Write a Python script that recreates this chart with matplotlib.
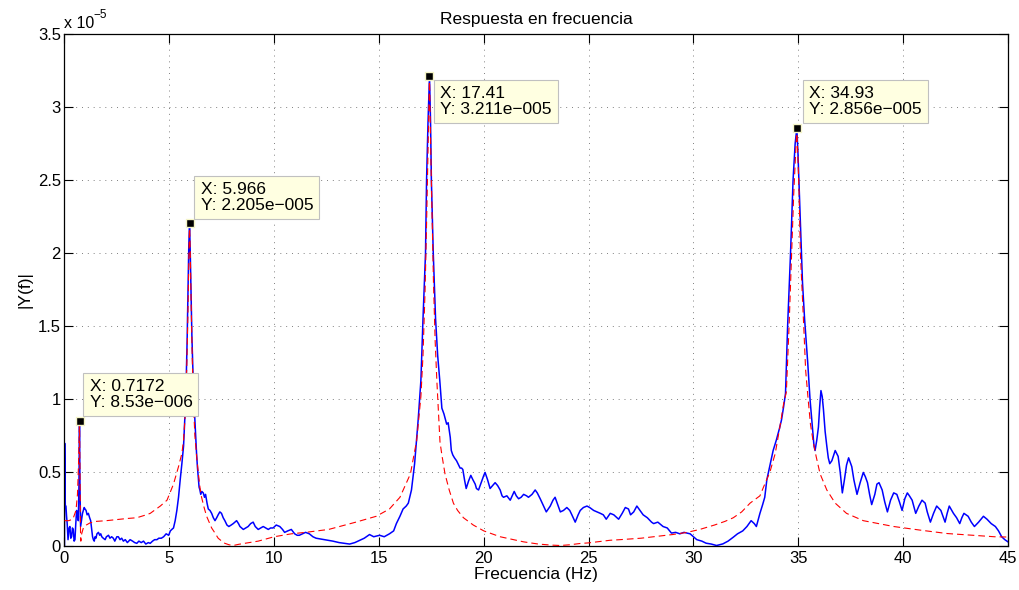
# =========================
# 1. Import Libraries
# =========================
import matplotlib
matplotlib.use('Agg')
import matplotlib.pyplot as plt

plt.rcParams['font.family'] = ['Liberation Sans', 'DejaVu Sans']

# =========================
# 2. Data (amplitudes in units of 1e-5)
# =========================
# measured spectrum |Y(f)|
freq_blue = [
    0.0, 0.01, 0.04, 0.07, 0.10, 0.13, 0.17, 0.22, 0.26, 0.30, 0.34, 0.38, 0.42, 0.46, 0.50,
    0.54, 0.58, 0.62, 0.66, 0.69, 0.7172, 0.74, 0.77, 0.82, 0.86, 0.90, 0.94, 0.98, 1.03,
    1.08, 1.14, 1.20, 1.25, 1.30, 1.34, 1.38, 1.42, 1.46, 1.50, 1.55, 1.62, 1.68, 1.73,
    1.78, 1.85, 1.94, 2.0, 2.1, 2.17, 2.25, 2.33, 2.4, 2.5, 2.57, 2.65, 2.73, 2.81, 2.9,
    3.0, 3.13, 3.25, 3.35, 3.45, 3.55, 3.66, 3.77, 3.88, 4.0, 4.09, 4.2, 4.3, 4.41, 4.5,
    4.62, 4.73, 4.85, 4.97, 5.05, 5.12, 5.2, 5.28, 5.36, 5.44, 5.52, 5.6, 5.68, 5.75, 5.8,
    5.85, 5.9, 5.93, 5.966, 6.0, 6.04, 6.08, 6.13, 6.18, 6.22, 6.26, 6.3, 6.34, 6.38, 6.42,
    6.46, 6.5, 6.55, 6.62, 6.68, 6.73, 6.8, 6.86, 6.94, 7.02, 7.1, 7.18, 7.26, 7.33, 7.41,
    7.49, 7.57, 7.65, 7.75, 7.84, 7.95, 8.05, 8.13, 8.21, 8.3, 8.37, 8.45, 8.53, 8.65, 8.76,
    8.88, 9.0, 9.1, 9.24, 9.36, 9.48, 9.6, 9.72, 9.83, 9.95, 10.1, 10.27, 10.4, 10.5, 10.65,
    10.82, 10.98, 11.1, 11.2, 11.35, 11.5, 11.68, 11.85, 12.0, 12.2, 12.4, 12.6, 12.8, 13.1,
    13.35, 13.6, 13.85, 14.07, 14.3, 14.55, 14.75, 15.03, 15.25, 15.5, 15.7, 15.83, 16.0,
    16.15, 16.3, 16.4, 16.55, 16.7, 16.87, 17.0, 17.1, 17.22, 17.27, 17.34, 17.41, 17.46,
    17.5, 17.59, 17.7, 17.8, 17.9, 18.0, 18.1, 18.23, 18.3, 18.4, 18.45, 18.52, 18.6, 18.7,
    18.8, 18.87, 18.94, 19.0, 19.08, 19.16, 19.27, 19.38, 19.48, 19.59, 19.65, 19.75, 19.9,
    20.0, 20.06, 20.18, 20.3, 20.42, 20.54, 20.66, 20.78, 20.87, 20.94, 21.1, 21.26, 21.45,
    21.55, 21.66, 21.78, 21.9, 22.04, 22.13, 22.3, 22.45, 22.55, 22.69, 22.85, 22.98, 23.17,
    23.3, 23.4, 23.5, 23.65, 23.8, 23.96, 24.1, 24.2, 24.36, 24.5, 24.6, 24.75, 24.92, 25.05,
    25.24, 25.4, 25.56, 25.7, 25.84, 26.03, 26.2, 26.43, 26.6, 26.75, 26.9, 27.0, 27.15,
    27.3, 27.45, 27.6, 27.8, 28.0, 28.1, 28.3, 28.55, 28.75, 28.95, 29.15, 29.35, 29.55,
    29.84, 30.0, 30.16, 30.4, 30.6, 30.85, 31.1, 31.4, 31.65, 31.9, 32.1, 32.35, 32.55,
    32.75, 32.9, 33.0, 33.17, 33.3, 33.4, 33.5, 33.56, 33.7, 33.8, 33.95, 34.1, 34.2, 34.3,
    34.39, 34.49, 34.56, 34.63, 34.7, 34.75, 34.85, 34.93, 34.98, 35.03, 35.1, 35.2, 35.3,
    35.35, 35.45, 35.56, 35.65, 35.75, 35.8, 35.88, 35.96, 36.02, 36.08, 36.14, 36.2, 36.28,
    36.36, 36.43, 36.5, 36.6, 36.76, 36.83, 36.9, 37.0, 37.1, 37.2, 37.3, 37.4, 37.55, 37.65,
    37.8, 37.95, 38.1, 38.2, 38.3, 38.4, 38.5, 38.65, 38.75, 38.85, 39.0, 39.12, 39.25, 39.4,
    39.55, 39.7, 39.82, 39.95, 40.08, 40.2, 40.3, 40.43, 40.6, 40.75, 40.9, 41.05, 41.15,
    41.3, 41.45, 41.6, 41.8, 42.0, 42.1, 42.2, 42.4, 42.55, 42.7, 42.8, 42.9, 43.1, 43.25,
    43.4, 43.6, 43.83, 44.0, 44.2, 44.4, 44.55, 44.7, 44.85, 45.0,
]
amp_blue = [
    0.0, 0.70, 0.27, 0.27, 0.20, 0.15, 0.04, 0.12, 0.13, 0.05, 0.06, 0.12, 0.11, 0.03, 0.04,
    0.15, 0.24, 0.20, 0.17, 0.40, 0.853, 0.40, 0.13, 0.18, 0.22, 0.24, 0.26, 0.25, 0.24,
    0.21, 0.22, 0.19, 0.17, 0.11, 0.06, 0.04, 0.03, 0.06, 0.05, 0.08, 0.09, 0.07, 0.08,
    0.06, 0.05, 0.04, 0.06, 0.07, 0.05, 0.06, 0.05, 0.03, 0.06, 0.06, 0.04, 0.05, 0.03, 0.04,
    0.02, 0.04, 0.03, 0.02, 0.015, 0.03, 0.02, 0.03, 0.01, 0.02, 0.015, 0.03, 0.04, 0.04, 0.05,
    0.05, 0.06, 0.08, 0.07, 0.10, 0.11, 0.12, 0.17, 0.24, 0.33, 0.45, 0.56, 0.68, 0.90, 1.10,
    1.40, 1.80, 2.05, 2.205, 2.0, 1.7, 1.42, 1.18, 1.0, 0.86, 0.74, 0.63, 0.54, 0.47, 0.40,
    0.38, 0.35, 0.37, 0.36, 0.33, 0.35, 0.29, 0.25, 0.24, 0.22, 0.19, 0.17, 0.19, 0.21, 0.23,
    0.22, 0.19, 0.17, 0.14, 0.13, 0.14, 0.15, 0.16, 0.17, 0.15, 0.13, 0.12, 0.11, 0.12, 0.13,
    0.15, 0.16, 0.13, 0.11, 0.12, 0.13, 0.12, 0.11, 0.12, 0.12, 0.14, 0.13, 0.11, 0.09, 0.10,
    0.11, 0.08, 0.07, 0.07, 0.08, 0.09, 0.08, 0.06, 0.05, 0.045, 0.04, 0.035, 0.03, 0.02,
    0.015, 0.01, 0.02, 0.035, 0.05, 0.075, 0.06, 0.07, 0.06, 0.08, 0.10, 0.15, 0.20,
    0.25, 0.27, 0.29, 0.38, 0.56, 0.86, 1.13, 1.55, 2.0, 2.5, 2.9, 3.211, 2.9,
    2.5, 2.0, 1.55, 1.3, 1.13, 0.94, 0.90, 0.83, 0.84, 0.74, 0.65, 0.62, 0.60, 0.58,
    0.55, 0.53, 0.53, 0.52, 0.45, 0.39, 0.44, 0.48, 0.45, 0.42, 0.39, 0.38, 0.44,
    0.48, 0.50, 0.45, 0.39, 0.41, 0.43, 0.41, 0.38, 0.34, 0.33, 0.34, 0.31, 0.37,
    0.34, 0.32, 0.33, 0.35, 0.34, 0.33, 0.35, 0.38, 0.36, 0.32, 0.27, 0.23, 0.27,
    0.31, 0.33, 0.29, 0.23, 0.24, 0.26, 0.24, 0.21, 0.16, 0.21, 0.24, 0.26, 0.27, 0.26,
    0.24, 0.23, 0.22, 0.21, 0.18, 0.22, 0.21, 0.18, 0.22, 0.26, 0.25, 0.21, 0.23,
    0.27, 0.24, 0.21, 0.19, 0.16, 0.15, 0.16, 0.13, 0.12, 0.085, 0.09, 0.08, 0.09,
    0.08, 0.06, 0.04, 0.03, 0.016, 0.01, 0.0, 0.011, 0.03, 0.057, 0.08, 0.10, 0.13,
    0.17, 0.15, 0.13, 0.22, 0.28, 0.33, 0.45, 0.49, 0.58, 0.65, 0.72, 0.80, 0.86, 0.95,
    1.04, 1.5, 1.75, 2.0, 2.3, 2.5, 2.75, 2.856, 2.7, 2.5, 2.2, 1.8, 1.55,
    1.45, 1.25, 1.0, 0.85, 0.68, 0.65, 0.72, 0.81, 0.95, 1.06, 1.02, 0.93, 0.78,
    0.68, 0.60, 0.56, 0.58, 0.65, 0.63, 0.61, 0.50, 0.36, 0.45, 0.55, 0.60, 0.54, 0.45,
    0.35, 0.43, 0.50, 0.47, 0.43, 0.35, 0.28, 0.35, 0.42, 0.43, 0.38, 0.30, 0.23, 0.31,
    0.36, 0.35, 0.30, 0.24, 0.32, 0.36, 0.34, 0.31, 0.22, 0.27, 0.31, 0.29, 0.23,
    0.16, 0.22, 0.27, 0.24, 0.16, 0.22, 0.27, 0.22, 0.19, 0.15, 0.19, 0.22, 0.20, 0.16,
    0.13, 0.16, 0.20, 0.18, 0.15, 0.13, 0.10, 0.06, 0.04, 0.025,
]

# fitted modal response (red dashed)
freq_fit = [
    0.0, 0.2, 0.4, 0.55, 0.62, 0.67, 0.7172, 0.74, 0.765, 0.78, 0.82, 0.9, 1.04, 1.22, 1.5,
    2.0, 2.65, 3.0, 3.45, 3.9, 4.09, 4.57, 4.89, 5.2, 5.44, 5.6, 5.68, 5.76, 5.83, 5.89,
    5.93, 5.966, 6.0, 6.05, 6.1, 6.16, 6.22, 6.3, 6.38, 6.46, 6.54, 6.66, 6.78, 6.9, 7.02,
    7.18, 7.33, 7.5, 7.65, 7.85, 8.05, 8.3, 8.6, 9.24, 10.0, 10.82, 11.5, 12.6, 13.9, 14.87,
    15.5, 16.0, 16.5, 16.8, 17.0, 17.1, 17.2, 17.27, 17.34, 17.41, 17.47, 17.54, 17.6, 17.68,
    17.76, 17.91, 18.0, 18.15, 18.35, 18.55, 18.75, 19.03, 19.5, 20.0, 20.78, 21.9, 22.6,
    23.2, 23.65, 24.1, 24.6, 25.0, 26.03, 26.5, 27.5, 28.1, 29.0, 29.7, 30.3, 31.0, 31.5,
    31.9, 32.3, 32.7, 33.17, 33.4, 33.64, 33.9, 34.12, 34.3, 34.43, 34.56, 34.68, 34.78,
    34.93, 35.03, 35.1, 35.26, 35.35, 35.47, 35.58, 35.7, 35.85, 36.04, 36.36, 36.76, 37.3,
    38.1, 39.55, 40.83, 42.1, 43.5, 44.35, 45.0,
]
amp_fit = [
    0.17, 0.17, 0.18, 0.24, 0.35, 0.55, 0.853, 0.45, 0.10, 0.03, 0.08, 0.12, 0.14, 0.155, 0.165,
    0.17, 0.18, 0.185, 0.19, 0.21, 0.22, 0.27, 0.31, 0.42, 0.54, 0.63, 0.72, 0.9, 1.2, 1.6,
    1.95, 2.205, 2.0, 1.6, 1.25, 0.95, 0.75, 0.62, 0.50, 0.40, 0.33, 0.26, 0.20, 0.16, 0.12,
    0.085, 0.05, 0.03, 0.015, 0.005, 0.0, 0.008, 0.015, 0.03, 0.06, 0.08, 0.09, 0.11, 0.16, 0.20,
    0.25, 0.33, 0.49, 0.72, 1.02, 1.3, 1.75, 2.2, 2.7, 3.211, 2.7, 2.2, 1.8, 1.4,
    1.13, 0.71, 0.62, 0.49, 0.38, 0.29, 0.24, 0.19, 0.14, 0.10, 0.06, 0.025, 0.01,
    0.003, 0.0, 0.005, 0.014, 0.018, 0.036, 0.04, 0.05, 0.06, 0.075, 0.09, 0.11, 0.14, 0.165,
    0.19, 0.23, 0.29, 0.34, 0.42, 0.50, 0.63, 0.81, 0.97, 1.05, 1.5, 1.98, 2.4,
    2.856, 2.45, 2.0, 1.5, 1.2, 1.0, 0.83, 0.72, 0.61, 0.49, 0.38, 0.29, 0.22,
    0.17, 0.13, 0.105, 0.082, 0.068, 0.06, 0.058,
]

# data tips
tip_x = [0.7172, 5.966, 17.41, 34.93]
tip_y = [0.853, 2.205, 3.211, 2.856]
tip_text = ['X: 0.7172\nY: 8.53e\u2212006',
            'X: 5.966\nY: 2.205e\u2212005',
            'X: 17.41\nY: 3.211e\u2212005',
            'X: 34.93\nY: 2.856e\u2212005']
# offset of the text box from the marker (pixels) and vertical anchor
tip_offset = [(10, 11, 'bottom'), (11, 10, 'bottom'), (11, -10, 'top'), (12, 11, 'bottom')]

x_ticks = [0, 5, 10, 15, 20, 25, 30, 35, 40, 45]
y_ticks = [0, 0.5, 1, 1.5, 2, 2.5, 3, 3.5]
y_tick_labels = ['0', '0.5', '1', '1.5', '2', '2.5', '3', '3.5']

# =========================
# 3. Plot
# =========================
fig = plt.figure(figsize=(10.2, 5.9), dpi=100)
ax = fig.add_axes([0.0632, 0.0754, 0.925, 0.867])

ax.plot(freq_blue, amp_blue, color='#0000ff', lw=1.1, zorder=2)
ax.plot(freq_fit, amp_fit, color='#ff0000', lw=0.8, dashes=(6, 3.6), zorder=3)

ax.set_xlim(0, 45)
ax.set_ylim(0, 3.5)
ax.set_xticks(x_ticks)
ax.set_yticks(y_ticks)
ax.set_yticklabels(y_tick_labels)

ax.grid(True, color='#808080', linestyle=(0, (1, 5)), lw=0.7)
ax.tick_params(direction='in', length=6.7, width=0.8, top=True, right=True,
               labelsize=12, colors='k')
ax.tick_params(axis='x', pad=3.8)
ax.tick_params(axis='y', pad=2.5)
for sp in ax.spines.values():
    sp.set_linewidth(0.9)

ax.set_title('Respuesta en frecuencia', fontsize=12.5, pad=7)
ax.set_xlabel('Frecuencia (Hz)', fontsize=12.5, labelpad=1)
ax.set_ylabel('|Y(f)|', fontsize=12.5, labelpad=4)

# exponent note at the top of the y axis
ax.text(0.0, 1.011, 'x 10', transform=ax.transAxes, fontsize=11.5, ha='left', va='baseline')
ax.text(0.031, 1.031, '\u22125', transform=ax.transAxes, fontsize=8.5, ha='left', va='baseline')

# =========================
# 4. Data tips
# =========================
for xv, yv, txt, (dx, dy, va) in zip(tip_x, tip_y, tip_text, tip_offset):
    ax.plot(xv, yv, 's', ms=5.5, mfc='k', mec='#f5f5c8', mew=1.0, zorder=5, clip_on=False)
    ax.annotate(txt, xy=(xv, yv), xytext=(dx, dy), textcoords='offset pixels',
                ha='left', va=va, fontsize=12.5, linespacing=1.1, zorder=6,
                bbox=dict(boxstyle='square,pad=0.35', fc='#ffffe1', ec='#c0c0c0', lw=0.8))

fig.savefig('out.png', dpi=100)
